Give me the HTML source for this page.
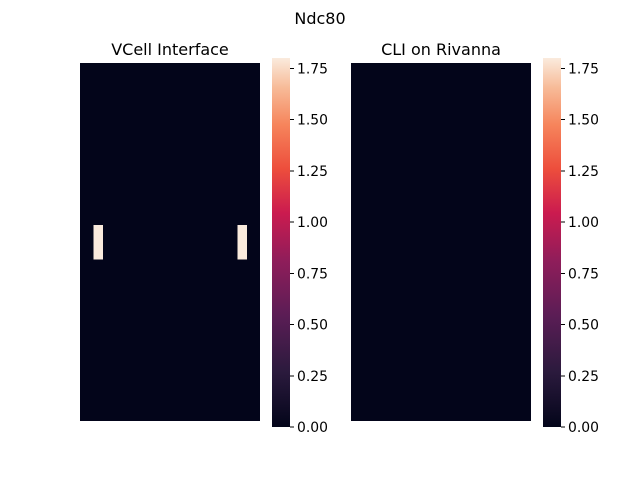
<!DOCTYPE html>
<html><head><meta charset="utf-8"><style>
body{margin:0;background:#fff;}
svg text{font-family:"DejaVu Sans","Liberation Sans",sans-serif;fill:#000;}
</style></head><body>
<svg width="640" height="480" xmlns="http://www.w3.org/2000/svg" shape-rendering="crispEdges">
<defs>
<linearGradient id="rocket" x1="0" y1="1" x2="0" y2="0">
<stop offset="0" stop-color="#03051a"/>
<stop offset="0.15" stop-color="#2b1a3d"/>
<stop offset="0.3" stop-color="#5a1d55"/>
<stop offset="0.45" stop-color="#8f1d5a"/>
<stop offset="0.58" stop-color="#cb1b4f"/>
<stop offset="0.7" stop-color="#ed4e3c"/>
<stop offset="0.82" stop-color="#f6855c"/>
<stop offset="0.92" stop-color="#f7bb98"/>
<stop offset="1" stop-color="#faebdd"/>
</linearGradient>
</defs>
<text x="320" y="24" font-size="16" text-anchor="middle">Ndc80</text>
<g id="root"></g>
</svg>
<script>
const nCols = 40, nRows = 42;
const vmax = 1.8;
const leftHot = [[3,19,1.8],[4,19,1.8],[3,20,1.8],[4,20,1.8],[3,21,1.8],[4,21,1.8],[3,22,1.8],[4,22,1.8],
                 [35,19,1.8],[36,19,1.8],[35,20,1.8],[36,20,1.8],[35,21,1.8],[36,21,1.8],[35,22,1.8],[36,22,1.8]];
const rightHot = [];
const ticks = [0,0.25,0.5,0.75,1.0,1.25,1.5,1.75];
const tickLabels = ["0.00","0.25","0.50","0.75","1.00","1.25","1.50","1.75"];
const titles = ["VCell Interface","CLI on Rivanna"];
const panels = [{x:80,hot:leftHot,name:"vcell"},{x:351,hot:rightHot,name:"cli"}];
const NS="http://www.w3.org/2000/svg";
const root=document.getElementById('root');
const top0=63, hmH=358, hmW=180, cbTop=58, cbBot=427;
function color(v){const t=v/vmax;const stops=[[0,[3,5,26]],[0.5,[160,28,90]],[1,[250,235,221]]];
 for(let i=1;i<stops.length;i++){if(t<=stops[i][0]){const a=stops[i-1],b=stops[i];const f=(t-a[0])/(b[0]-a[0]);
 return 'rgb('+a[1].map((c,j)=>Math.round(c+(b[1][j]-c)*f)).join(',')+')';}}return 'rgb(250,235,221)';}
function cy(v){return cbBot-(v/vmax)*(cbBot-cbTop);}
panels.forEach((p,pi)=>{
 const g=document.createElementNS(NS,'g');
 
 
 root.appendChild(g);
 const bg=document.createElementNS(NS,'rect');
 bg.setAttribute('x',p.x);bg.setAttribute('y',top0);bg.setAttribute('width',hmW);bg.setAttribute('height',hmH);bg.setAttribute('fill',color(0));
 
 
 g.appendChild(bg);
 const cw=hmW/nCols, ch=hmH/nRows;
 p.hot.forEach(c=>{const r=document.createElementNS(NS,'rect');
  r.setAttribute('x',p.x+c[0]*cw);r.setAttribute('y',top0+c[1]*ch);r.setAttribute('width',cw+0.5);r.setAttribute('height',ch+0.5);r.setAttribute('fill',color(c[2]));
  
  
  g.appendChild(r);});
 const t=document.createElementNS(NS,'text');
 t.setAttribute('x',p.x+hmW/2);t.setAttribute('y',55);t.setAttribute('font-size','16');t.setAttribute('text-anchor','middle');t.textContent=titles[pi];
 
 
 g.appendChild(t);
 const cbx=p.x+192;
 const cb=document.createElementNS(NS,'rect');
 cb.setAttribute('x',cbx);cb.setAttribute('y',cbTop);cb.setAttribute('width',18);cb.setAttribute('height',cbBot-cbTop);cb.setAttribute('fill','url(#rocket)');
 
 
 g.appendChild(cb);
 ticks.forEach((v,i)=>{const y=cy(v);
  const l=document.createElementNS(NS,'line');
  l.setAttribute('x1',cbx+18);l.setAttribute('x2',cbx+22);l.setAttribute('y1',y);l.setAttribute('y2',y);l.setAttribute('stroke','#000');l.setAttribute('stroke-width','1');
  
  
  g.appendChild(l);
  const tx=document.createElementNS(NS,'text');
  tx.setAttribute('x',cbx+25);tx.setAttribute('y',y+5);tx.setAttribute('font-size','13.9');tx.textContent=tickLabels[i];
  
  
  g.appendChild(tx);});
});
</script>
</body></html>
